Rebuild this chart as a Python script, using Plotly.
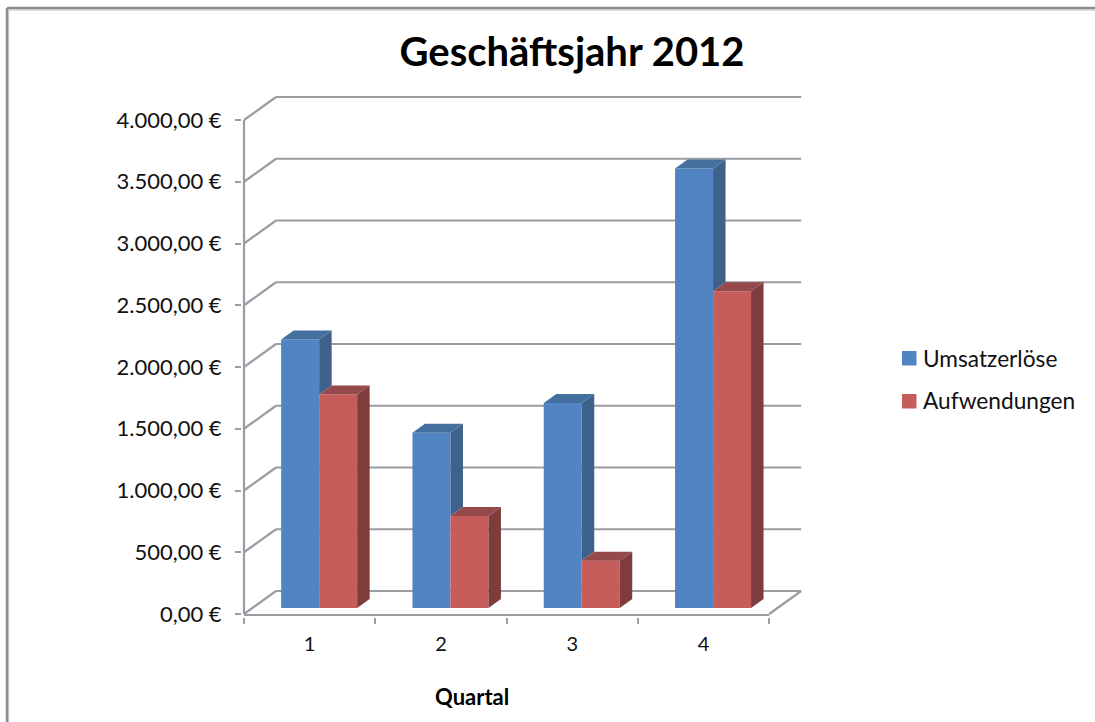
"""Geschäftsjahr 2012: 3D-look column chart drawn on flat axes."""

import plotly.graph_objects as go

quartal = [1, 2, 3, 4]
series_names = ["Umsatzerlöse", "Aufwendungen"]
umsatz = [2175, 1420, 1660, 3558]
aufwand = [1728, 745, 382, 2565]
y_ticks = [0, 500, 1000, 1500, 2000, 2500, 3000, 3500, 4000]
y_labels = ["0,00 €", "500,00 €", "1.000,00 €", "1.500,00 €", "2.000,00 €",
            "2.500,00 €", "3.000,00 €", "3.500,00 €", "4.000,00 €"]

W, H = 1095, 722
PLOT_L, PLOT_R, PLOT_T, PLOT_B = 242, 806, 95, 617
AXIS_X0, AXIS_Y0 = 244, 614   # pixel position of x=0.5 and of y=0
PX_X = 131.3                  # px per category
PX_Y = 494 / 4000             # px per euro

# oblique depth, in data units
WALL_DX, WALL_DY = 32 / PX_X, 23 / PX_Y
BAR_DX, BAR_DY = 12.5 / PX_X, 9 / PX_Y
LIFT_DX, LIFT_DY = 9.5 / PX_X, 6 / PX_Y
BAR_W = 38 / PX_X

GRID = "#9a9da3"
FRAME, FRAME_SOFT = "#8c8d93", "#d4d5d8"
BLUE, BLUE_SIDE, BLUE_TOP = "#5284c4", "#3e628c", "#43709f"
RED, RED_SIDE, RED_TOP = "#c65d5b", "#7f3c3c", "#95494a"


# paper coordinates are relative to the plot area, so page pixels go through these
def px(x):
    return (x - PLOT_L) / (PLOT_R - PLOT_L)


def py(y):
    return (PLOT_B - y) / (PLOT_B - PLOT_T)


def poly(xs, ys, color):
    return go.Scatter(x=xs, y=ys, mode="lines", fill="toself", fillcolor=color,
                      line=dict(width=0), hoverinfo="skip", showlegend=False)


def bar_faces(x0, value, color_side, color_top, floor=0.0):
    """Side and top face of one column. floor hides what the next column covers."""
    x1 = x0 + BAR_W
    top = value + LIFT_DY
    low = floor + LIFT_DY
    side = poly([x1, x1 + BAR_DX, x1 + BAR_DX, x1, x1],
                [low, low + BAR_DY, top + BAR_DY, top, low], color_side)
    cap = poly([x0, x0 + BAR_DX, x1 + BAR_DX, x1, x0],
               [top, top + BAR_DY, top + BAR_DY, top, top], color_top)
    return [side, cap]


fig = go.Figure()

x_blue = [q - BAR_W + LIFT_DX for q in quartal]
x_red = [q + LIFT_DX for q in quartal]
lift = [LIFT_DY] * 4

fig.add_trace(go.Bar(name=series_names[0], x=[x + BAR_W / 2 for x in x_blue], y=umsatz,
                     base=lift, width=BAR_W, marker=dict(color=BLUE, line_width=0)))
fig.add_trace(go.Bar(name=series_names[1], x=[x + BAR_W / 2 for x in x_red], y=aufwand,
                     base=lift, width=BAR_W, marker=dict(color=RED, line_width=0)))

for i in range(len(quartal)):
    for t in bar_faces(x_blue[i], umsatz[i], BLUE_SIDE, BLUE_TOP, floor=aufwand[i]):
        fig.add_trace(t)
    for t in bar_faces(x_red[i], aufwand[i], RED_SIDE, RED_TOP):
        fig.add_trace(t)

# walls and floor sit under the columns
x_lo, x_hi = 0.5, 4.5
shapes = []
for v in y_ticks:
    shapes.append(dict(type="line", x0=x_lo, y0=v, x1=x_lo + WALL_DX, y1=v + WALL_DY))
    shapes.append(dict(type="line", x0=x_lo + WALL_DX, y0=v + WALL_DY,
                       x1=x_hi + WALL_DX, y1=v + WALL_DY))
shapes.append(dict(type="line", x0=x_hi, y0=0, x1=x_hi + WALL_DX, y1=WALL_DY))
shapes.append(dict(type="line", x0=x_lo, y0=0, x1=x_lo, y1=4000))
shapes.append(dict(type="line", x0=x_lo, y0=-1 / PX_Y, x1=x_hi, y1=-1 / PX_Y))
for s in shapes:
    s.update(xref="x", yref="y", layer="below", line=dict(color=GRID, width=2.2))

# chart frame, cut off at the right and bottom of the screenshot
for (x0, y0, x1, y1), color, width in [
    ((8.5, 10, W, 10), FRAME_SOFT, 1.5),
    ((8.5, 10, 8.5, H), FRAME_SOFT, 1.5),
    ((7, 8, W, 8), FRAME, 2.5),
    ((7, 8, 7, H), FRAME, 2.5),
]:
    shapes.append(dict(type="line", xref="paper", yref="paper", x0=px(x0), y0=py(y0),
                       x1=px(x1), y1=py(y1), line=dict(color=color, width=width)))

# legend keys: squares placed to the pixel, text beside them
for y0, color in [(351, BLUE), (394, RED)]:
    shapes.append(dict(type="rect", xref="paper", yref="paper", x0=px(902), x1=px(916.5),
                       y0=py(y0), y1=py(y0 + 14.5), fillcolor=color, line=dict(width=0)))

notes = [dict(text="<b>Quartal</b>", x=px(472), y=py(696), font=dict(size=22, color="#000000"))]
for name, y in zip(series_names, [358, 400]):
    notes.append(dict(text=name, x=px(920.5), y=py(y), xanchor="left", font=dict(size=22.7)))
for n in notes:
    n.update(xref="paper", yref="paper", showarrow=False, yanchor="middle")

fig.update_layout(
    width=W, height=H, autosize=False, showlegend=False,
    margin=dict(l=PLOT_L, r=W - PLOT_R, t=PLOT_T, b=H - PLOT_B, pad=0),
    paper_bgcolor="white", plot_bgcolor="white",
    barmode="overlay",
    font=dict(family="Lato, Open Sans, sans-serif", color="#111111", size=20),
    title=dict(text="<b>Geschäftsjahr 2012</b>", font=dict(size=40, color="#000000"),
               x=572 / W, xanchor="center", y=1 - 52 / H, yanchor="middle"),
    xaxis=dict(range=[x_lo - (AXIS_X0 - PLOT_L) / PX_X, x_lo + (PLOT_R - AXIS_X0) / PX_X],
               tickmode="array", tickvals=quartal,
               ticks="", showgrid=False, zeroline=False, showline=False,
               tickfont=dict(size=20), ticklabelstandoff=13,
               minor=dict(tickmode="array", tickvals=[0.5, 1.5, 2.5, 3.5, 4.5], ticks="outside",
                          ticklen=6, tickwidth=2, tickcolor=GRID, showgrid=False)),
    yaxis=dict(range=[-(PLOT_B - AXIS_Y0) / PX_Y, (AXIS_Y0 - PLOT_T) / PX_Y],
               tickmode="array", tickvals=y_ticks, ticktext=y_labels,
               ticks="outside", ticklen=6, tickwidth=2, tickcolor=GRID, showgrid=False,
               zeroline=False, showline=False,
               tickfont=dict(size=22), ticklabelstandoff=9, autorange=False),
    shapes=shapes,
    annotations=notes,
)

# the screenshot has no page margin, the figure fills the window
fig.write_html("out.html", config={"displayModeBar": False},
               post_script="document.body.style.margin='0';document.body.style.overflow='hidden';")
